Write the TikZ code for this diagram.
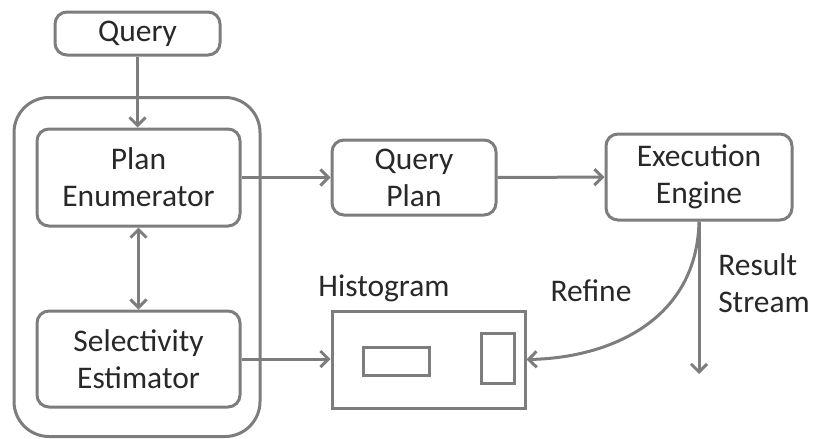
\documentclass[tikz,border=0pt]{standalone}
\usepackage{fontspec}
\setmainfont{Carlito}
\usetikzlibrary{arrows.meta}
\definecolor{gc}{RGB}{125,125,125}
\definecolor{tc}{RGB}{40,40,40}
\begin{document}
\begin{tikzpicture}[x=1pt,y=-1pt,
  every node/.style={font=\fontsize{31.5}{37}\selectfont, text=tc, align=center, inner sep=0pt},
  rbox/.style={draw=gc, line width=3pt, rounded corners=12pt},
  sbox/.style={draw=gc, line width=3pt},
  conn/.style={draw=gc, line width=3pt, -{Straight Barb[length=8pt,width=16pt,line width=3pt]}},
  dconn/.style={draw=gc, line width=3pt, {Straight Barb[length=8pt,width=16pt,line width=3pt]}-{Straight Barb[length=8pt,width=16pt,line width=3pt]}}]
\useasboundingbox (0,0) rectangle (814,439);
\node[draw=gc, line width=3pt, rounded corners=35pt, minimum width=246pt, minimum height=339pt] (outer) at (137,267) {};
\node[rbox, minimum width=165pt, minimum height=43pt] (q) at (137.5,33.5) {Query};
\node[rbox, minimum width=203pt, minimum height=97pt] (pe) at (138.5,177.5) {Plan\\Enumerator};
\node[rbox, minimum width=203pt, minimum height=96pt] (se) at (138.5,359) {Selectivity\\Estimator};
\node[rbox, minimum width=164pt, minimum height=75pt] (qp) at (414,177.5) {Query\\Plan};
\node[rbox, minimum width=186pt, minimum height=86pt] (ee) at (699,177) {Execution\\Engine};
\node[sbox, minimum width=193pt, minimum height=97pt] (h) at (428.5,359.5) {};
\node[sbox, minimum width=66pt, minimum height=28pt] (h1) at (396,361) {};
\node[sbox, minimum width=33pt, minimum height=50pt] (h2) at (497.5,358) {};
\node (hl) at (384,288) {Histogram};
\node (rl) at (591,291) {Refine};
\node[align=left] (sl) at (764,283) {Result\\Stream};
\coordinate (rend) at (699,374);
\draw[conn] (q) -- (q |- pe.north);
\draw[dconn] (pe) -- (se);
\draw[conn] (pe) -- (qp);
\draw[conn] (qp) -- (ee);
\draw[conn] (se.east) -- (h.west |- se.east);
\draw[conn] (ee.south) .. controls (697,320) and (610,358) .. (h.east);
\draw[conn] (ee.south) -- (rend);
\end{tikzpicture}
\end{document}
